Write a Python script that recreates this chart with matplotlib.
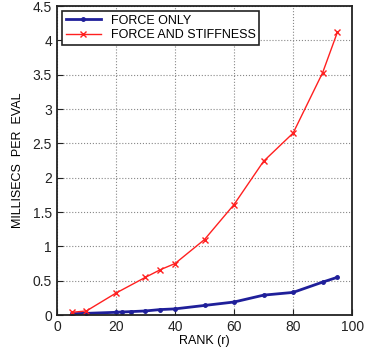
import matplotlib
matplotlib.use("Agg")
from matplotlib import pyplot as plt

plt.rcParams['font.family'] = ['Liberation Sans', 'DejaVu Sans']

# rank values and timings (ms per eval)
rank_force = [5, 10, 20, 22, 25, 30, 35, 40, 50, 60, 70, 80, 90, 95]
ms_force = [0.02, 0.025, 0.04, 0.045, 0.05, 0.06, 0.08, 0.09, 0.14, 0.19, 0.29, 0.33, 0.48, 0.55]

rank_stiff = [5, 10, 20, 30, 35, 40, 50, 60, 70, 80, 90, 95]
ms_stiff = [0.04, 0.06, 0.32, 0.55, 0.66, 0.75, 1.1, 1.61, 2.24, 2.65, 3.53, 4.12]

fig = plt.figure(figsize=(3.87, 3.56), dpi=100)
ax = fig.add_axes([0.147, 0.115, 0.763, 0.868])

ax.plot(rank_force, ms_force, color='#1f1f9a', marker='.', markersize=5,
        linewidth=2, label='FORCE ONLY')
ax.plot(rank_stiff, ms_stiff, color='#ff2020', marker='x', markersize=4,
        linewidth=1, label='FORCE AND STIFFNESS')

ax.set_xlim(0, 100)
ax.set_ylim(0, 4.5)
ax.set_xticks([0, 20, 40, 60, 80, 100])
ax.set_yticks([0, 0.5, 1, 1.5, 2, 2.5, 3, 3.5, 4, 4.5])
ax.set_yticklabels(['0', '0.5', '1', '1.5', '2', '2.5', '3', '3.5', '4', '4.5'])
ax.grid(True, linestyle=':', color='#888888', linewidth=0.8)
ax.tick_params(direction='in', labelsize=10, length=4, colors='#222222')
for s in ax.spines.values():
    s.set_linewidth(1.3)
    s.set_color('#222222')

ax.set_xlabel('RANK (r)', fontsize=9, labelpad=1)
ax.set_ylabel('MILLISECS  PER  EVAL', fontsize=9, labelpad=6)

leg = ax.legend(loc='upper left', fontsize=9, fancybox=False, framealpha=1,
                edgecolor='#222222', borderaxespad=0.4, handlelength=2.8,
                borderpad=0.3, labelspacing=0.2)
leg.get_frame().set_linewidth(1.2)

fig.savefig('out.png', dpi=100)
